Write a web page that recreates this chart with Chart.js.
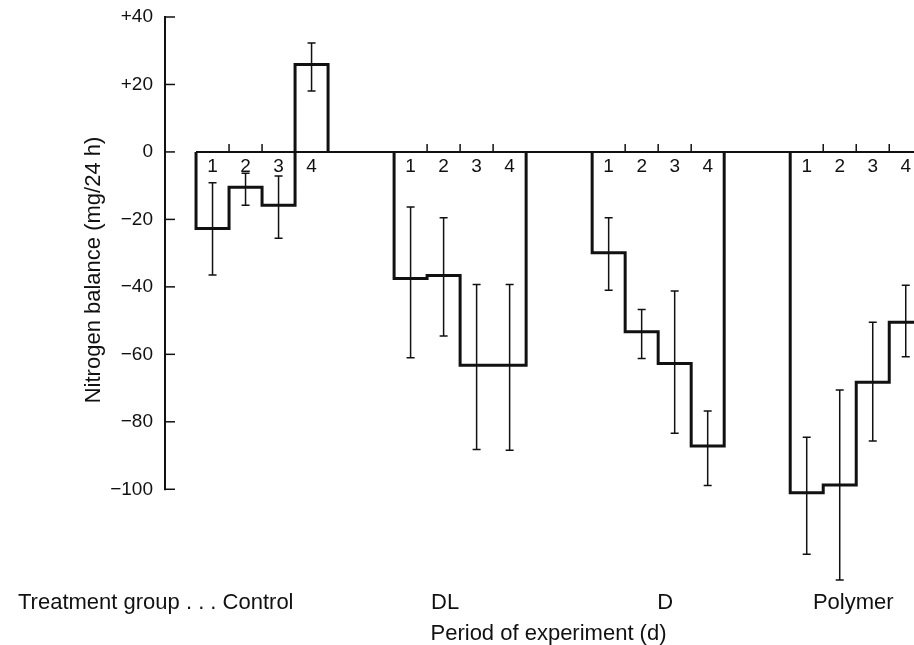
<!DOCTYPE html>
<html>
<head>
<meta charset="utf-8">
<title>Nitrogen balance</title>
<script src="https://cdn.jsdelivr.net/npm/chart.js@4.4.1/dist/chart.umd.min.js"></script>
<style>
  html, body { margin: 0; padding: 0; background: #fff; }
  canvas { display: block; }
</style>
</head>
<body>
<canvas id="myChart" width="914" height="645"></canvas>
<script>
console.log("Nitrogen balance chart initializing.");

// Treatment groups and the four periods of each
const groups = ['Control', 'DL', 'D', 'Polymer'];
const periods = ['1', '2', '3', '4'];

// Mean nitrogen balance (mg/24 h) for each period
const controlBalance = [-22.7, -10.5, -15.8, 25.9];
const dlBalance = [-37.5, -36.6, -63.2, -63.2];
const dBalance = [-29.9, -53.3, -62.7, -87.2];
const polymerBalance = [-101.0, -98.7, -68.3, -50.5];

// Error bar ends (top / bottom) for each period
const controlUpper = [-9.1, -6.3, -7.1, 32.3];
const controlLower = [-36.5, -15.8, -25.6, 18.1];
const dlUpper = [-16.3, -19.5, -39.3, -39.3];
const dlLower = [-61.0, -54.6, -88.2, -88.4];
const dUpper = [-19.5, -46.7, -41.2, -76.8];
const dLower = [-41.0, -61.2, -83.4, -98.9];
const polymerUpper = [-84.6, -70.6, -50.5, -39.5];
const polymerLower = [-119.3, -126.9, -85.7, -60.7];

// Y axis tick labels
const yTicks = [40, 20, 0, -20, -40, -60, -80, -100];

const balances = [controlBalance, dlBalance, dBalance, polymerBalance];
const uppers = [controlUpper, dlUpper, dUpper, polymerUpper];
const lowers = [controlLower, dlLower, dLower, polymerLower];

// each group takes 4 periods, then 2 empty periods before the next one
const groupGap = 2;
const groupStart = groups.map((g, i) => i * (periods.length + groupGap));

const ink = '#111';
const fontFamily = '"Liberation Sans", Arial, Helvetica, sans-serif';

Chart.defaults.font.family = fontFamily;
Chart.defaults.color = ink;

// outline of one group: down from the baseline, across each period, back up
function stepOutline(start, vals) {
    const pts = [{ x: start, y: 0 }];
    vals.forEach((v, i) => {
        pts.push({ x: start + i, y: v });
        pts.push({ x: start + i + 1, y: v });
    });
    pts.push({ x: start + vals.length, y: 0 });
    return pts;
}

const datasets = [{
    label: 'baseline',
    data: [{ x: groupStart[0], y: 0 }, { x: groupStart[groupStart.length - 1] + periods.length, y: 0 }],
    borderColor: ink,
    borderWidth: 2,
    pointRadius: 0
}];
groups.forEach((g, i) => {
    datasets.push({
        label: g,
        data: stepOutline(groupStart[i], balances[i]),
        borderColor: ink,
        borderWidth: 3,
        borderJoinStyle: 'miter',
        pointRadius: 0,
        tension: 0,
        fill: false
    });
});

// y axis line, inward ticks, error bars and the printed labels
const paperAxes = {
    id: 'paperAxes',
    afterDatasetsDraw(chart) {
        const { ctx, chartArea, scales: { x, y } } = chart;
        ctx.save();
        ctx.strokeStyle = ink;
        ctx.fillStyle = ink;

        const left = chartArea.left;
        ctx.lineWidth = 2;
        ctx.beginPath();
        ctx.moveTo(left, y.getPixelForValue(yTicks[0]) - 1);
        ctx.lineTo(left, y.getPixelForValue(yTicks[yTicks.length - 1]) + 1);
        ctx.stroke();
        ctx.lineWidth = 1.5;
        yTicks.forEach(v => {
            const py = y.getPixelForValue(v);
            ctx.beginPath();
            ctx.moveTo(left, py);
            ctx.lineTo(left + 10, py);
            ctx.stroke();
        });

        const y0 = y.getPixelForValue(0);
        groups.forEach((g, gi) => {
            const start = groupStart[gi];

            // small ticks on the baseline between periods
            ctx.lineWidth = 1.5;
            for (let k = 1; k < periods.length; k++) {
                const px = x.getPixelForValue(start + k);
                ctx.beginPath();
                ctx.moveTo(px, y0);
                ctx.lineTo(px, y0 - 8);
                ctx.stroke();
            }

            // error bars
            periods.forEach((p, k) => {
                const px = x.getPixelForValue(start + k + 0.5);
                const top = y.getPixelForValue(uppers[gi][k]);
                const bot = y.getPixelForValue(lowers[gi][k]);
                ctx.lineWidth = 1.5;
                ctx.beginPath();
                ctx.moveTo(px, top);
                ctx.lineTo(px, bot);
                ctx.moveTo(px - 4, top);
                ctx.lineTo(px + 4, top);
                ctx.moveTo(px - 4, bot);
                ctx.lineTo(px + 4, bot);
                ctx.stroke();
            });

            // period numbers under the baseline
            ctx.font = '19px ' + fontFamily;
            ctx.textAlign = 'center';
            ctx.textBaseline = 'middle';
            periods.forEach((p, k) => {
                ctx.fillText(p, x.getPixelForValue(start + k + 0.5), y0 + 15);
            });
        });

        // treatment group names and x title under the plot
        const labelShift = [-4, -15, 7, -3];
        ctx.font = '22px ' + fontFamily;
        ctx.textBaseline = 'alphabetic';
        const ly = chart.height - 36;
        groups.forEach((g, gi) => {
            const cx = x.getPixelForValue(groupStart[gi] + periods.length / 2) + labelShift[gi];
            if (gi === 0) {
                ctx.textAlign = 'right';
                ctx.fillText('Treatment group . . . ' + g, cx + ctx.measureText(g).width / 2, ly);
            } else {
                ctx.textAlign = 'center';
                ctx.fillText(g, cx, ly);
            }
        });
        ctx.textAlign = 'center';
        ctx.fillText('Period of experiment (d)', (chartArea.left + chartArea.right) / 2 + 9, chart.height - 5);

        ctx.restore();
    }
};

var ctx = document.getElementById('myChart').getContext('2d');
var myChart = new Chart(ctx, {
    type: 'line',
    data: { datasets: datasets },
    plugins: [paperAxes],
    options: {
        responsive: false,
        animation: false,
        devicePixelRatio: 1,
        layout: { padding: { top: 17, bottom: 122, left: 0, right: 0 } },
        plugins: {
            legend: { display: false },
            tooltip: { enabled: false }
        },
        scales: {
            x: {
                type: 'linear',
                display: false,
                min: -0.94,
                max: 21.75
            },
            y: {
                min: -110,
                max: 40,
                afterBuildTicks: scale => {
                    scale.ticks = yTicks.map(v => ({ value: v }));
                },
                afterFit: scale => {
                    scale.width = 165;
                    // labels fit inside the page margins, no extra room needed
                    scale.paddingTop = 0;
                    scale.paddingBottom = 0;
                },
                grid: { display: false, drawTicks: false },
                border: { display: false },
                ticks: {
                    padding: 12,
                    color: ink,
                    font: { size: 19 },
                    callback: v => v > 0 ? '+' + v : (v < 0 ? '\u2212' + (-v) : '0')
                },
                title: {
                    display: true,
                    text: 'Nitrogen balance (mg/24 h)',
                    color: ink,
                    font: { size: 22 },
                    padding: { top: 81, bottom: 0 }
                }
            }
        }
    }
});

console.log("Nitrogen balance chart loaded.");
</script>
</body>
</html>
